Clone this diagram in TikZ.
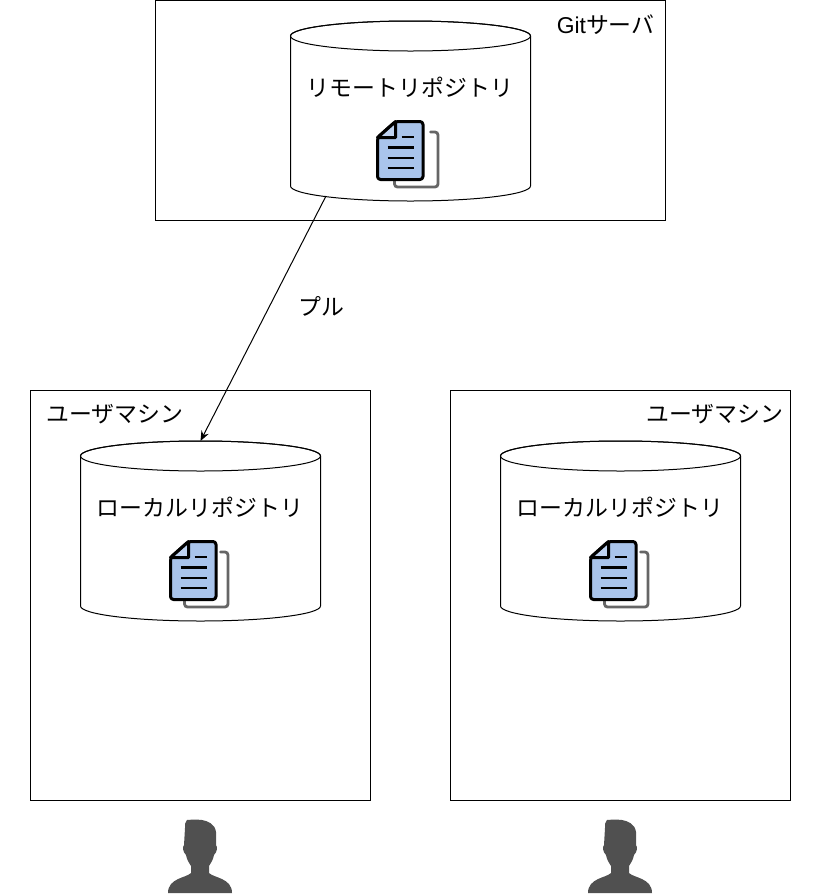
\documentclass[tikz,border=0pt]{standalone}
\usepackage{fontspec}
\setmainfont{Liberation Sans}
\newfontfamily\jpfont{Noto Sans CJK JP}
\usepackage{xcolor}
\usetikzlibrary{arrows.meta,positioning}
\definecolor{docblue}{HTML}{A9C4EB}
\definecolor{backgray}{HTML}{666666}
\definecolor{persongray}{HTML}{505050}

\begin{document}
\begin{tikzpicture}[
  x=1pt,y=-1pt,line width=1pt,
  box/.style={draw=black,fill=white,inner sep=0pt},
  repo/.style={inner sep=0pt,outer sep=0pt,minimum width=240pt,minimum height=180pt},
  lbl/.style={inner sep=0pt,font=\fontsize{22.9}{26}\selectfont\jpfont},
  arr/.style={-{Stealth[length=10pt,width=8pt]},draw=black},
  pics/drum/.style={code={
    \draw[fill=white] (-120,-75) -- (-120,75) arc[start angle=180,end angle=0,x radius=120,y radius=15] -- (120,-75) arc[start angle=0,end angle=-180,x radius=120,y radius=15] -- cycle;
    \draw (0,-75) ellipse[x radius=120,y radius=15];
  }},
  pics/docs/.style={code={
    \draw[backgray,line width=2.8pt,rounded corners=3pt,line cap=round,xshift=#1pt] (50,10.5)--(57.5,10.5)--(57.5,65.5)--(14,65.5)--(14,59);
    \draw[black,fill=docblue,line width=3pt,line join=round,rounded corners=3pt] (18,0)--(45.5,0)--(45.5,58)--(0,58)--(0,16)--cycle;
    \draw[black,fill=white,fill opacity=.25,line width=3pt,line join=round] (18,0)--(18,16)--(0,16)--cycle;
    \draw[black,line width=2.4pt] (24,15.5)--(36.5,15.5) (10,26)--(36.5,26) (10,36.5)--(36.5,36.5) (10,46.5)--(36.5,46.5);
  }},
  pics/user/.style={code={
    \fill[persongray] (-13,0) .. controls (-8,-0.5) and (-2,-0.5) .. (2,0) .. controls (8,1) and (15,4) .. (16,12)
      -- (16,25) .. controls (18,27) and (17,32) .. (14,35) .. controls (13,40) and (11,43) .. (9,46)
      -- (9,53) .. controls (14,58) and (32,58) .. (32,73) -- (-32,73) .. controls (-32,58) and (-14,58) .. (-9,53)
      -- (-9,46) .. controls (-11,43) and (-13,40) .. (-14,35) .. controls (-17,32) and (-18,27) .. (-16,25)
      -- (-15,8) .. controls (-15,4) and (-15,2) .. (-13,0) -- cycle;
  }}
]
\useasboundingbox (0,0) rectangle (831,895);
% outer boxes
\node[box,minimum width=510pt,minimum height=220pt] (server) at (410.5,110.5) {};
\node[box,minimum width=340pt,minimum height=410pt] (machine1) at (200.5,595.5) {};
\node[box,minimum width=340pt,minimum height=410pt] (machine2) at (620.5,595.5) {};
% repositories
\node[repo] (remote) at (410.5,111) {};
\node[repo] (local1) at (200.5,531) {};
\node[repo] (local2) at (620.5,531) {};
\pic at (remote.center) {drum};
\pic at (local1.center) {drum};
\pic at (local2.center) {drum};
\node[lbl] (remotelbl) at (410,87) {リモートリポジトリ};
\node[lbl] (local1lbl) at (200,507) {ローカルリポジトリ};
\node[lbl] (local2lbl) at (620,507) {ローカルリポジトリ};
% files
\pic at (377.5,121.5) {docs=3};
\pic at (170.5,541.5) {docs=0};
\pic at (590.5,541.5) {docs=0};
% titles
\node[lbl,font=\fontsize{22.9}{26}\selectfont,anchor=east] (serverlbl) at (655,25) {Git{\jpfont サーバ}};
\node[lbl] (machine1lbl) at (115,414) {ユーザマシン};
\node[lbl] (machine2lbl) at (715,414) {ユーザマシン};
% pull
\coordinate (pullstart) at ([xshift=-84.5pt,yshift=5pt]remote.south);
\draw[arr] (pullstart) -- (local1.north) node[lbl,pos=.45,right=28.5pt] (pulllbl) {プル};
% users
\pic at (200,820) {user};
\pic at (620,820) {user};
\end{tikzpicture}
\end{document}
